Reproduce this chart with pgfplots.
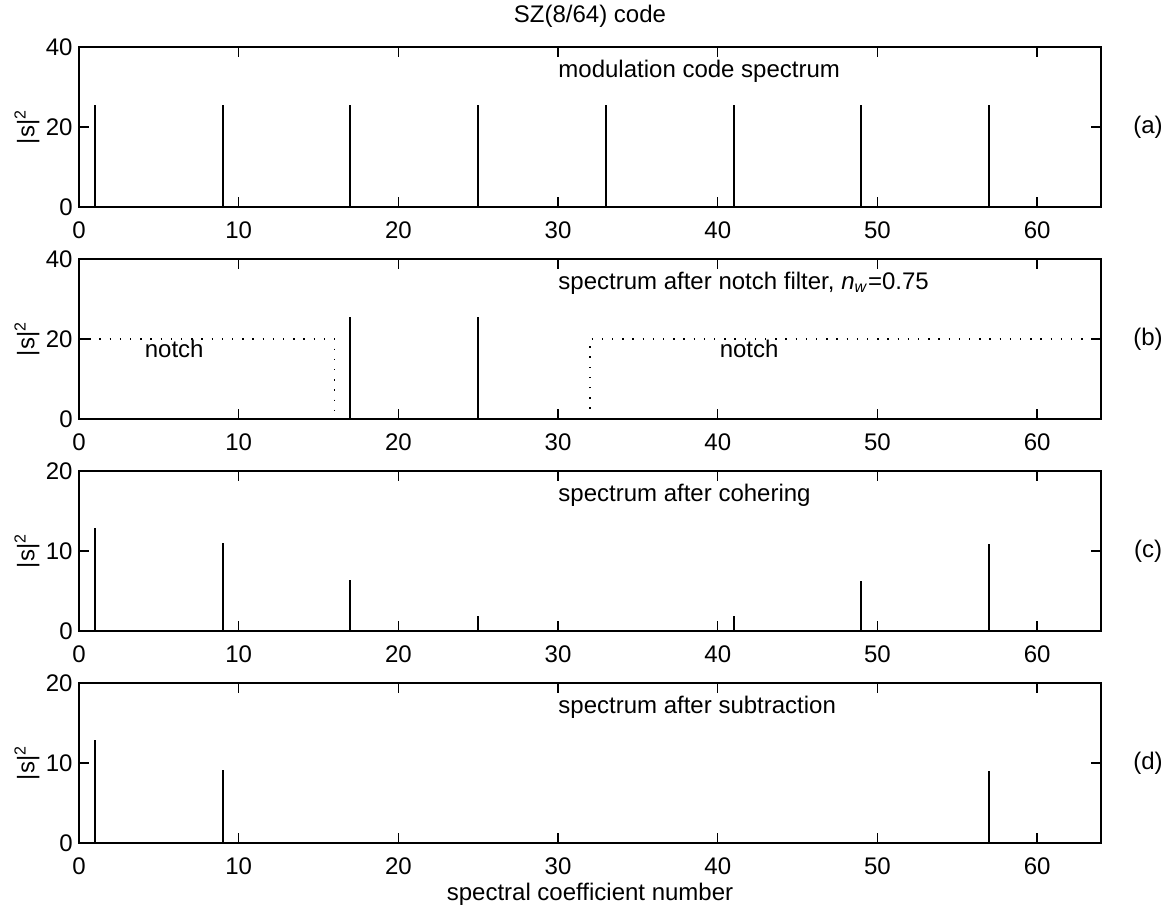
\documentclass[border=0pt]{standalone}
\usepackage{fontspec}
\setmainfont{Liberation Sans}
\usepackage{pgfplots}
\pgfplotsset{compat=1.18}
\pgfplotsset{panel/.style={
  scale only axis, width=511pt, height=80pt,
  xmin=0, xmax=64, ymin=0,
  xtick={0,10,...,60},
  tick align=inside,
  major tick length=5pt,
  axis line style={line width=0.8pt},
  every tick/.style={black, line width=0.7pt},
  tick label style={font=\fontsize{12}{14}\selectfont},
  xticklabel style={yshift=-3pt},
  yticklabel style={xshift=1pt},
  /pgf/number format/assume math mode=true,
  clip=false,
  ylabel={|s|\textsuperscript{2}},
  every axis y label/.style={at={(rel axis cs:-0.051,0.5)}, rotate=90, anchor=center, font=\fontsize{12}{14}\selectfont},
  stem/.style={black, line width=1pt, ycomb, mark=none},
  notch/.style={black, line width=0.7pt, dash pattern=on 0.7pt off 4.4pt, mark=none},
}}
\begin{document}
\fontsize{12}{14}\selectfont
\begin{tikzpicture}
% (a)
\begin{axis}[panel, at={(0,318pt)}, ymax=40, ytick={0,20,40}]
\addplot[stem] coordinates {(1,25.6) (9,25.6) (17,25.6) (25,25.6) (33,25.6) (41,25.6) (49,25.6) (57,25.6)};
\node[anchor=west, inner sep=0pt] at (axis cs:30,34) {modulation code spectrum};
\node at (rel axis cs:1.046,0.5) {(a)};
\node at (rel axis cs:0.5,1.194) {SZ(8/64) code};
\end{axis}
% (b)
\begin{axis}[panel, at={(0,212pt)}, ymax=40, ytick={0,20,40}]
\addplot[stem] coordinates {(17,25.6) (25,25.6)};
\addplot[notch] coordinates {(0,20) (16,20) (16,0)};
\addplot[notch] coordinates {(32,0) (32,20) (64,20)};
\node[anchor=west, inner sep=0pt] at (axis cs:30,34) {spectrum after notch filter, \textit{n}\textsubscript{\textit{w}}=0.75};
\node[anchor=west, inner sep=0pt] at (axis cs:4.1,17.6) {notch};
\node[anchor=west, inner sep=0pt] at (axis cs:40.1,17.6) {notch};
\node at (rel axis cs:1.046,0.5) {(b)};
\end{axis}
% (c)
\begin{axis}[panel, at={(0,106pt)}, ymax=20, ytick={0,10,20}]
\addplot[stem] coordinates {(1,12.9) (9,10.95) (17,6.35) (25,1.9) (41,1.9) (49,6.3) (57,10.9)};
\node[anchor=west, inner sep=0pt] at (axis cs:30,17) {spectrum after cohering};
\node at (rel axis cs:1.046,0.5) {(c)};
\end{axis}
% (d)
\begin{axis}[panel, at={(0,0pt)}, ymax=20, ytick={0,10,20},
  xlabel={spectral coefficient number},
  every axis x label/.style={at={(rel axis cs:0.5,-0.32)}, anchor=center, font=\fontsize{12}{14}\selectfont}]
\addplot[stem] coordinates {(1,12.9) (9,9.15) (57,9.0)};
\node[anchor=west, inner sep=0pt] at (axis cs:30,17) {spectrum after subtraction};
\node at (rel axis cs:1.046,0.5) {(d)};
\end{axis}
\pgfresetboundingbox
\path[use as bounding box] (-39.5pt,-33pt) rectangle (545.5pt,421.5pt);
\end{tikzpicture}
\end{document}
